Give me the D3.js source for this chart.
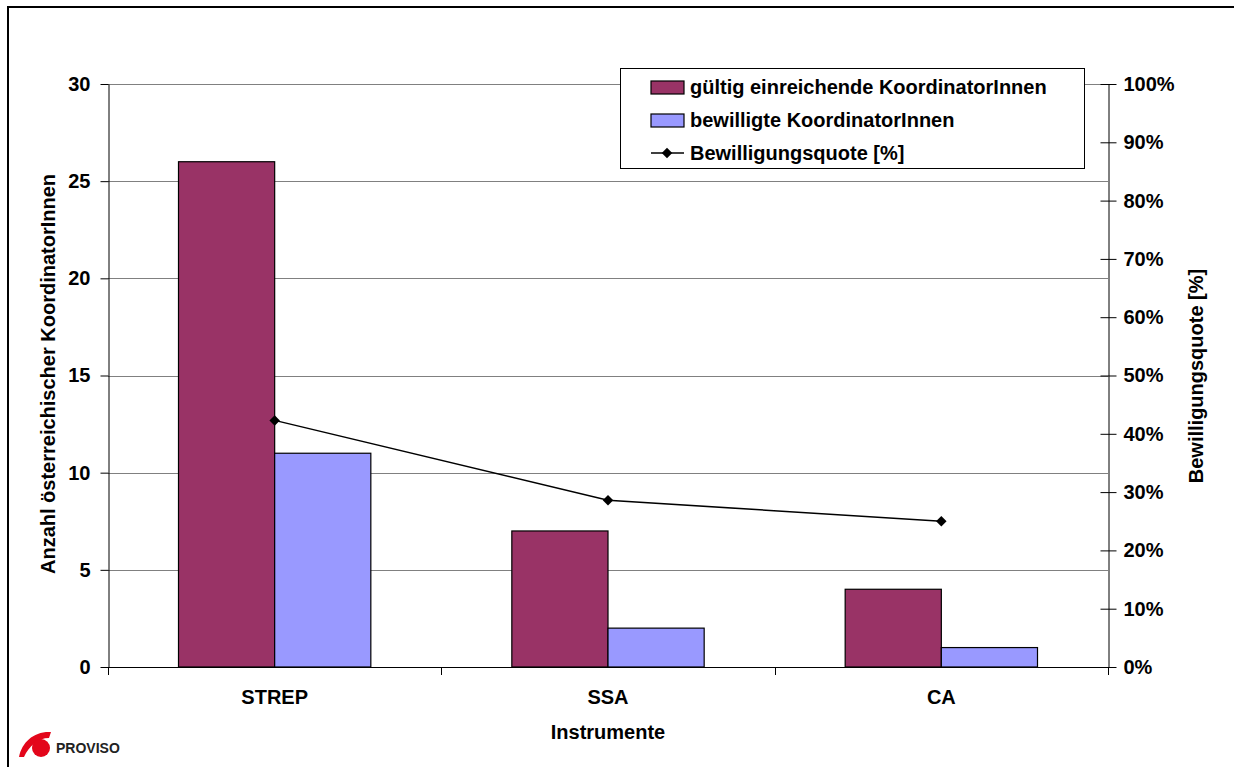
<!DOCTYPE html>
<html><head><meta charset="utf-8">
<script src="https://cdn.jsdelivr.net/npm/d3@7"></script>
<style>
body{margin:0;background:#fff;}
svg{display:block;font-family:"Liberation Sans",Arial,sans-serif;}
</style></head>
<body><svg id="c" width="1234" height="767"></svg>
<script>
const categories = ["STREP","SSA","CA"];
const seriesNames = ["gültig einreichende KoordinatorInnen","bewilligte KoordinatorInnen","Bewilligungsquote [%]"];
const submitted = [26,7,4];
const approved = [11,2,1];
const rate = [0.423,0.286,0.25];
const leftTicks = [0,5,10,15,20,25,30];
const rightTicks = [0,0.1,0.2,0.3,0.4,0.5,0.6,0.7,0.8,0.9,1.0];
const colors = ["#993366","#9999FF"];

const FS = 20;
const svg = d3.select("#c");
const L=108,R=1108,T=84,B=667;

// outer frame
svg.append("rect").attr("x",8).attr("y",7).attr("width",1240).attr("height",780)
  .attr("fill","none").attr("stroke","#000").attr("stroke-width",2);

const x = d3.scaleBand().domain(categories).range([L,R]).paddingInner(0).paddingOuter(0);
const yL = d3.scaleLinear().domain([0,30]).range([B,T]);
const yR = d3.scaleLinear().domain([0,1]).range([B,T]);
const inner = d3.scaleBand().domain([0,1]).range([70.5, x.bandwidth()-70.5]);

// gridlines
svg.append("g").selectAll("line").data(leftTicks.filter(d=>d>0)).join("line")
  .attr("x1",L).attr("x2",R).attr("y1",d=>Math.round(yL(d))+0.5).attr("y2",d=>Math.round(yL(d))+0.5)
  .attr("stroke","#808080").attr("stroke-width",1);

// bars
const g = svg.append("g");
[submitted,approved].forEach((vals,si)=>{
  g.selectAll(null).data(categories).join("rect")
    .attr("x",d=>x(d)+inner(si))
    .attr("y",(d,i)=>yL(vals[i]))
    .attr("width",inner.bandwidth())
    .attr("height",(d,i)=>B-yL(vals[i]))
    .attr("fill",colors[si]).attr("stroke","#000").attr("stroke-width",1.2);
});

// axes
const axL = d3.axisLeft(yL).tickValues(leftTicks).tickSize(8).tickSizeOuter(0).tickPadding(10);
const gL = svg.append("g").attr("transform",`translate(${L+0.5},0)`).call(axL);
const axR = d3.axisRight(yR).tickValues(rightTicks).tickSize(8).tickSizeOuter(0).tickFormat(d3.format(".0%")).tickPadding(7);
const gR = svg.append("g").attr("transform",`translate(${R+0.5},0)`).call(axR);
gR.selectAll(".tick line").attr("x1",-8);
const axB = d3.axisBottom(x).tickSize(0).tickPadding(22);
const gB = svg.append("g").attr("transform",`translate(0,${B+0.5})`).call(axB);
// category boundary ticks
svg.append("g").selectAll("line").data(d3.range(categories.length+1)).join("line")
  .attr("x1",i=>Math.round(L+i*x.step())+0.5).attr("x2",i=>Math.round(L+i*x.step())+0.5)
  .attr("y1",B).attr("y2",B+8).attr("stroke","#000");
[gL,gR,gB].forEach(a=>{
  a.selectAll("path").attr("stroke","#000");
  a.selectAll("line").attr("stroke","#000");
  a.selectAll("text").attr("font-size",FS).attr("font-weight","bold").attr("fill","#000")
   .attr("font-family","'Liberation Sans',Arial,sans-serif");
});
gB.selectAll("path").attr("d",`M${L},0H${R}`);

// line series
const pts = categories.map((c,i)=>[x(c)+x.bandwidth()/2, yR(rate[i])]);
svg.append("path").attr("d",d3.line()(pts)).attr("fill","none").attr("stroke","#000").attr("stroke-width",1.5);
svg.append("g").selectAll("path").data(pts).join("path")
  .attr("transform",d=>`translate(${d[0]},${d[1]})`)
  .attr("d",d3.symbol(d3.symbolDiamond2,70)).attr("fill","#000");

// axis titles
const tf = s=>s.attr("font-size",FS).attr("font-weight","bold").attr("fill","#000").attr("text-anchor","middle");
svg.append("text").text("Anzahl österreichischer KoordinatorInnen").call(tf)
  .attr("transform",`translate(55,374) rotate(-90)`);
svg.append("text").text(seriesNames[2]).call(tf)
  .attr("transform",`translate(1203,376) rotate(-90)`);
svg.append("text").text("Instrumente").call(tf).attr("x",608).attr("y",739);

// legend
const lg = svg.append("g");
lg.append("rect").attr("x",620.5).attr("y",68.5).attr("width",464).attr("height",100)
  .attr("fill","#fff").attr("stroke","#000").attr("stroke-width",1);
const rows=[87,120,153];
[0,1].forEach(i=>{
  lg.append("rect").attr("x",651).attr("y",rows[i]-6).attr("width",33).attr("height",13)
    .attr("fill",colors[i]).attr("stroke","#000").attr("stroke-width",1.2);
});
lg.append("line").attr("x1",651).attr("x2",684).attr("y1",rows[2]).attr("y2",rows[2]).attr("stroke","#000").attr("stroke-width",1.5);
lg.append("path").attr("transform",`translate(667,${rows[2]})`).attr("d",d3.symbol(d3.symbolDiamond2,70)).attr("fill","#000");
seriesNames.forEach((n,i)=>{
  lg.append("text").text(n).attr("x",690).attr("y",rows[i]+7).attr("font-size",FS).attr("font-weight","bold").attr("fill","#000");
});

// logo
const logo = svg.append("g");
logo.append("path").attr("d","M19,757 C22,742 34,731 51,732 L49,738 C38,738 29,746 24,757 Z").attr("fill","#e3061b");
logo.append("circle").attr("cx",41).attr("cy",748).attr("r",9).attr("fill","#e3061b");
logo.append("text").text("PROVISO").attr("x",56).attr("y",753)
  .attr("font-family","'Liberation Sans Narrow','Arial Narrow',sans-serif").attr("font-size",14).attr("font-weight","bold").attr("fill","#222");
</script></body></html>
